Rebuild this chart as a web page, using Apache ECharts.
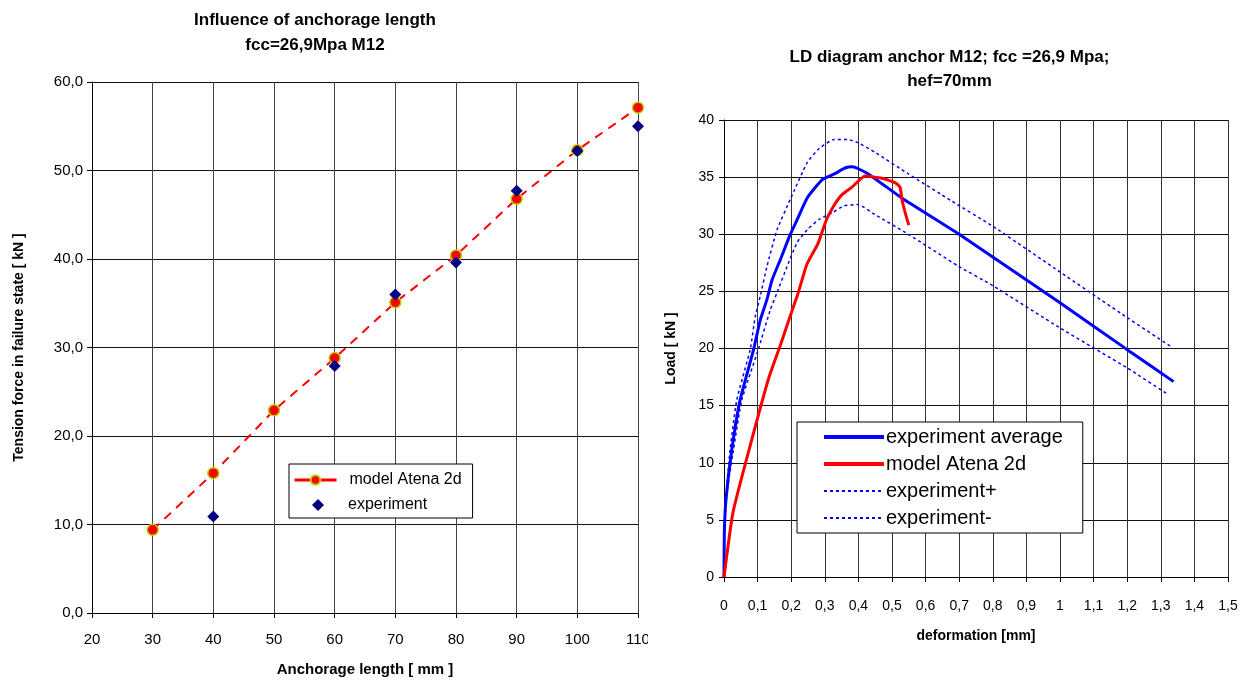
<!DOCTYPE html>
<html>
<head>
<meta charset="utf-8">
<script src="https://cdn.jsdelivr.net/npm/echarts@6/dist/echarts.min.js"></script>
<style>
  html, body { margin: 0; padding: 0; background: #fff; }
  #leftChart { position: absolute; left: 0; top: 0; width: 648px; height: 682px; }
  #rightChart { position: absolute; left: 648px; top: 0; width: 603px; height: 682px; }
</style>
</head>
<body>
<div id="leftChart"></div>
<div id="rightChart"></div>
<script>
// left chart: anchorage length vs tension force
var anchorLength = [30, 40, 50, 60, 70, 80, 90, 100, 110];
var modelForce = [9.4, 15.8, 22.9, 28.8, 35.1, 40.4, 46.8, 52.3, 57.1];
var expLength = [40, 60, 70, 80, 90, 100, 110];
var expForce = [10.9, 27.9, 36.0, 39.6, 47.7, 52.2, 55.0];

// right chart: load-deformation curves [deformation mm, load kN]
var expAverage = [[0, 0], [0.001, 3.9], [0.006, 6.8], [0.023, 11.1], [0.048, 15.5], [0.088, 19.9],
  [0.108, 22.5], [0.128, 24.3], [0.143, 26], [0.168, 27.8], [0.196, 29.9], [0.218, 31.3],
  [0.248, 33.2], [0.293, 34.8], [0.33, 35.3], [0.36, 35.8], [0.383, 35.9], [0.428, 35.3],
  [0.528, 33.2], [0.7, 30], [1.0, 24], [1.2, 19.9], [1.338, 17.1]];
var modelAtena = [[0, 0], [0.027, 5.7], [0.087, 12.5], [0.133, 17.4], [0.169, 20.4], [0.193, 22.5],
  [0.22, 24.8], [0.247, 27.4], [0.28, 29.2], [0.304, 31.2], [0.325, 32.4], [0.349, 33.4],
  [0.38, 34.1], [0.42, 35.1], [0.47, 34.9], [0.51, 34.5], [0.524, 34.1], [0.53, 33.0],
  [0.54, 31.8], [0.55, 30.8]];
var expPlus = [[0, 3], [0.005, 6.8], [0.018, 11.1], [0.038, 15.5], [0.078, 19.9], [0.093, 22.8],
  [0.108, 24.6], [0.128, 27.2], [0.158, 30.4], [0.198, 33.1], [0.248, 36.3], [0.283, 37.5],
  [0.328, 38.3], [0.368, 38.3], [0.4, 38.0], [0.448, 37.2], [0.548, 35.3], [0.678, 32.9],
  [0.8, 30.7], [1.0, 26.7], [1.2, 22.7], [1.334, 20.1]];
var expMinus = [[0, 3], [0.006, 6.8], [0.028, 11.1], [0.053, 15.5], [0.102, 19.9], [0.138, 23.4],
  [0.158, 24.9], [0.188, 27.2], [0.218, 29.3], [0.248, 30.4], [0.283, 31.3], [0.323, 31.9],
  [0.358, 32.5], [0.4, 32.6], [0.448, 31.75], [0.548, 30.0], [0.698, 27.2], [0.8, 25.5],
  [1.0, 21.8], [1.2, 18.3], [1.32, 16.0]];

var font = 'Liberation Sans, Arial, sans-serif';

function comma(v, d) {
  return (d == null ? String(+v.toFixed(1)) : v.toFixed(d)).replace('.', ',');
}

var leftChart = echarts.init(document.getElementById('leftChart'));
var leftOption = {
  animation: false,
  title: {
    text: 'Influence of anchorage length\nfcc=26,9Mpa M12',
    left: 310,
    top: 3,
    textAlign: 'center',
    textStyle: { fontFamily: font, fontSize: 17, fontWeight: 'bold', color: '#000', lineHeight: 25 }
  },
  grid: { left: 92, right: 10, top: 82, bottom: 69, outerBoundsMode: 'none' },
  legend: [
    {
      // box and first entry
      orient: 'vertical',
      left: 289,
      top: 464,
      backgroundColor: '#fff',
      borderColor: '#000',
      borderWidth: 1,
      borderRadius: 0,
      padding: [8, 11, 30, 4],
      itemWidth: 42,
      itemHeight: 12,
      lineStyle: { type: 'solid', width: 3 },
      textStyle: { fontFamily: font, fontSize: 16, color: '#000', padding: [0, 0, 0, 8] },
      data: ['model Atena 2d']
    },
    {
      orient: 'vertical',
      left: 312,
      top: 497,
      padding: 0,
      itemWidth: 12,
      itemHeight: 12,
      textStyle: { fontFamily: font, fontSize: 16, color: '#000', padding: [0, 0, 0, 19] },
      data: ['experiment']
    }
  ],
  xAxis: {
    type: 'value',
    min: 20, max: 110, interval: 10,
    name: 'Anchorage length [ mm ]',
    nameLocation: 'middle',
    nameGap: 49,
    nameTextStyle: { fontFamily: font, fontSize: 15, fontWeight: 'bold', color: '#000' },
    axisLine: { lineStyle: { color: '#000' } },
    axisTick: { show: true, length: 5, lineStyle: { color: '#000' } },
    axisLabel: { fontFamily: font, fontSize: 15, color: '#000', margin: 19 },
    splitLine: { show: true, lineStyle: { color: '#444' } }
  },
  yAxis: {
    type: 'value',
    min: 0, max: 60, interval: 10,
    name: 'Tension force in failure state [ kN ]',
    nameLocation: 'middle',
    nameGap: 66,
    nameTextStyle: { fontFamily: font, fontSize: 14, fontWeight: 'bold', color: '#000' },
    axisLine: { show: true, lineStyle: { color: '#000' } },
    axisTick: { show: true, length: 5, lineStyle: { color: '#000' } },
    axisLabel: { fontFamily: font, fontSize: 15, color: '#000', margin: 9, formatter: function (v) { return comma(v, 1); } },
    splitLine: { show: true, lineStyle: { color: '#111' } }
  },
  series: [
    {
      name: 'model Atena 2d',
      type: 'line',
      data: anchorLength.map(function (x, i) { return [x, modelForce[i]]; }),
      symbol: 'circle',
      symbolSize: 11,
      itemStyle: { color: '#ff0000', borderColor: '#b5d300', borderWidth: 1.5 },
      lineStyle: { color: '#ff0000', width: 2, type: [9, 7] },
      z: 3
    },
    {
      name: 'experiment',
      type: 'scatter',
      data: expLength.map(function (x, i) { return [x, expForce[i]]; }),
      symbol: 'diamond',
      symbolSize: 12,
      itemStyle: { color: '#000080', opacity: 1 },
      z: 4
    }
  ]
};
leftChart.setOption(leftOption);

var rightChart = echarts.init(document.getElementById('rightChart'));
var rightOption = {
  animation: false,
  title: {
    text: 'LD diagram anchor M12; fcc =26,9 Mpa;\nhef=70mm',
    left: 'center',
    top: 40,
    textStyle: { fontFamily: font, fontSize: 17, fontWeight: 'bold', color: '#000', lineHeight: 24 }
  },
  grid: { left: 76, right: 23, top: 120, bottom: 105, outerBoundsMode: 'none' },
  legend: {
    orient: 'vertical',
    left: 149,
    top: 422,
    backgroundColor: '#fff',
    borderColor: '#000',
    borderWidth: 1,
    borderRadius: 0,
    padding: [5, 20, 5, 25],
    itemGap: 7,
    itemWidth: 60,
    itemHeight: 18,
    itemStyle: { opacity: 0, color: 'transparent', borderWidth: 0 },
    textStyle: { fontFamily: font, fontSize: 20, color: '#000', padding: [0, 0, 0, -3] },
    data: [
      { name: 'experiment average', lineStyle: { width: 4 } },
      { name: 'model Atena 2d', lineStyle: { width: 4 } },
      { name: 'experiment+', lineStyle: { width: 2 } },
      { name: 'experiment-', lineStyle: { width: 2 } }
    ]
  },
  xAxis: {
    type: 'value',
    min: 0, max: 1.5, interval: 0.1,
    name: 'deformation [mm]',
    nameLocation: 'middle',
    nameGap: 52,
    nameTextStyle: { fontFamily: font, fontSize: 14, fontWeight: 'bold', color: '#000' },
    axisLine: { onZero: false, lineStyle: { color: '#000' } },
    axisTick: { show: true, length: 5, lineStyle: { color: '#000' } },
    axisLabel: { fontFamily: font, fontSize: 14, color: '#000', margin: 22, formatter: function (v) { return comma(v); } },
    splitLine: { show: true, lineStyle: { color: '#333' } }
  },
  yAxis: {
    type: 'value',
    min: 0, max: 40, interval: 5,
    name: 'Load [ kN ]',
    nameLocation: 'middle',
    nameGap: 46,
    nameTextStyle: { fontFamily: font, fontSize: 14, fontWeight: 'bold', color: '#000' },
    axisLine: { show: true, lineStyle: { color: '#000' } },
    axisTick: { show: true, length: 5, lineStyle: { color: '#000' } },
    axisLabel: { fontFamily: font, fontSize: 14, color: '#000', margin: 10 },
    splitLine: { show: true, lineStyle: { color: '#111' } }
  },
  series: [
    {
      name: 'experiment average',
      type: 'line',
      data: expAverage,
      symbol: 'none',
      smooth: 0.15,
      itemStyle: { color: '#0000ff' },
      lineStyle: { color: '#0000ff', width: 3 },
      z: 4
    },
    {
      name: 'model Atena 2d',
      type: 'line',
      data: modelAtena,
      symbol: 'none',
      smooth: 0.15,
      itemStyle: { color: '#ff0000' },
      lineStyle: { color: '#ff0000', width: 3 },
      z: 5
    },
    {
      name: 'experiment+',
      type: 'line',
      data: expPlus,
      symbol: 'none',
      smooth: 0.15,
      itemStyle: { color: '#0000ff' },
      lineStyle: { color: '#0000ff', width: 1.5, type: [3, 3] },
      z: 3
    },
    {
      name: 'experiment-',
      type: 'line',
      data: expMinus,
      symbol: 'none',
      smooth: 0.15,
      itemStyle: { color: '#0000ff' },
      lineStyle: { color: '#0000ff', width: 1.5, type: [3, 3] },
      z: 3
    }
  ]
};
rightChart.setOption(rightOption);
</script>
</body>
</html>
